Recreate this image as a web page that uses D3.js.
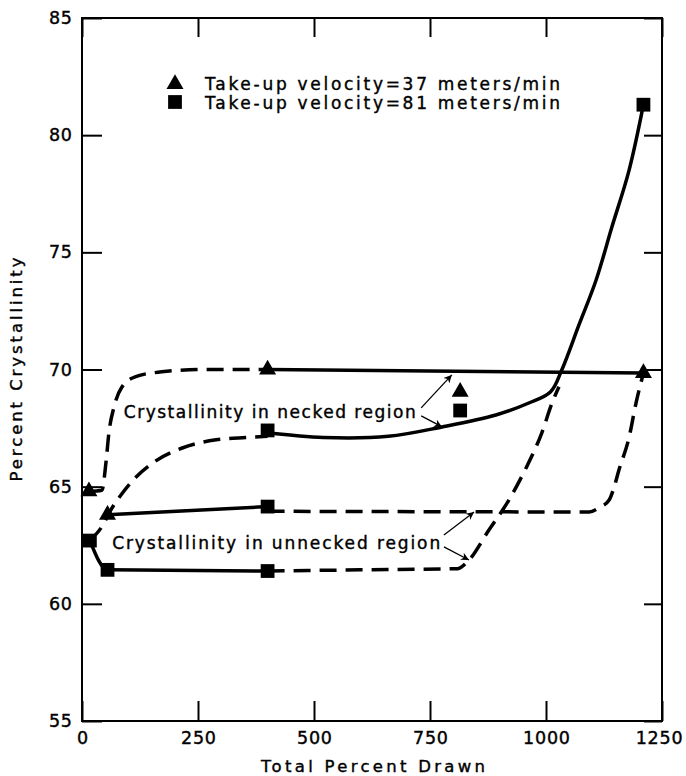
<!DOCTYPE html>
<html>
<head>
<meta charset="utf-8">
<script src="https://cdn.jsdelivr.net/npm/d3@7"></script>
<style>
    body { margin: 0; background: #fff; }
    text { font-family: "DejaVu Sans", "Liberation Sans", Arial, sans-serif; fill: #000; stroke: #000; stroke-width: 0.4px; }
    .axis path { display: none; }
    .axis line { stroke: #000; stroke-width: 2; }
    .axis text { font-size: 17.5px; letter-spacing: 0.8px; }
    .frame { fill: none; stroke: #000; stroke-width: 2; }
    .solid { fill: none; stroke: #000; stroke-width: 3.5; }
    .dash { fill: none; stroke: #000; stroke-width: 3.5; stroke-dasharray: 17 9; }
    .pointer { stroke: #000; stroke-width: 1.3; }
</style>
</head>
<body>
<div id="chart"></div>
<script>
//////////////////////////////////////////////////////////////
//////////////////////////// Data ////////////////////////////
//////////////////////////////////////////////////////////////

const xTicks = [0, 250, 500, 750, 1000, 1250]
const yTicks = [55, 60, 65, 70, 75, 80, 85]

//markers [total percent drawn, percent crystallinity]
const triangles37 = [[15,64.8],[55,63.8],[400,70.0],[815,69.05],[1210,69.85]]
const squares81 = [[17,62.7],[55,61.45],[400,67.4],[400,64.15],[400,61.4],[815,68.25],[1210,81.3]]

//37 meters/min
const necked37Dash = [[15,64.8],[43,64.85],[52,66.1],[58,67.3],[69,68.4],[86,69.25],[116,69.7],[172,69.9],[259,70.0],[400,70.0]]
const necked37Solid = [[400,70.0],[1210,69.85]]
const unnecked37Solid = [[55,63.8],[400,64.15]]
const unnecked37Dash = [[400,63.95],[800,63.93],[1093,63.92],[1114,64.1],[1136,64.43],[1147,64.99],[1157,65.7],[1179,67.1],[1194,68.57],[1210,69.85]]

//81 meters/min
const necked81Dash = [[17,62.7],[43,63.3],[62,64.0],[86,64.7],[116,65.4],[159,66.1],[216,66.65],[289,67.0],[353,67.1],[400,67.15]]
const necked81Solid = [[400,67.3],[520,67.1],[660,67.15],[776,67.55],[892,68.06],[963,68.57],[1010,69.05],[1034,69.98],[1071,71.9],[1108,73.82],[1142,76.08],[1179,78.5],[1210,81.3]]
const unnecked81Solid = [[17,62.7],[55,61.45],[400,61.4]]
const unnecked81Dash = [[400,61.4],[600,61.45],[810,61.5],[830,61.78],[877,63.15],[920,64.43],[957,65.8],[991,67.3],[1013,68.57],[1028,69.26]]

//annotations
const labelTexts = ["Crystallinity in necked region", "Crystallinity in unnecked region"]
const labelAnchors = [[90,67.93],[65,62.34]]
const pointerFrom = [[731,68.36],[731,68.02],[780,62.94],[780,62.43]]
const pointerTo = [[797,69.77],[776,67.55],[845,63.92],[834,61.87]]

const legendTexts = ["Take-up velocity=37 meters/min", "Take-up velocity=81 meters/min"]

//////////////////////////////////////////////////////////////
//////////////////////// Create SVG //////////////////////////
//////////////////////////////////////////////////////////////

const margin = { left: 82, top: 18, right: 24, bottom: 55 }
const width = 686 - margin.left - margin.right
const height = 776 - margin.top - margin.bottom

const root = d3.select("#chart").append("svg")
    .attr("width", 686)
    .attr("height", 776)

const svg = root.append("g")
    .attr("transform", "translate(" + [margin.left, margin.top] + ")")

//////////////////////////////////////////////////////////////
////////////////////// Create scales /////////////////////////
//////////////////////////////////////////////////////////////

const x = d3.scaleLinear().domain([0, 1250]).range([0, width])
const y = d3.scaleLinear().domain([55, 85]).range([height, 0])

const line = d3.line()
    .x(d => x(d[0]))
    .y(d => y(d[1]))
    .curve(d3.curveMonotoneX)

//smoother spline for the long necked curve
const smoothLine = d3.line()
    .x(d => x(d[0]))
    .y(d => y(d[1]))
    .curve(d3.curveCatmullRom.alpha(0.5))

//////////////////////////////////////////////////////////////
///////////////////////// Axes ///////////////////////////////
//////////////////////////////////////////////////////////////

svg.append("g").attr("class", "axis")
    .attr("transform", "translate(0," + height + ")")
    .call(d3.axisBottom(x).tickValues(xTicks).tickSize(-20).tickPadding(11).tickFormat(d3.format("d")))
    .selectAll("text").attr("dx", (d,i) => i === xTicks.length - 1 ? "-3px" : "0.4px")

svg.append("g").attr("class", "axis")
    .call(d3.axisTop(x).tickValues(xTicks).tickSize(-19).tickFormat(""))

svg.append("g").attr("class", "axis")
    .call(d3.axisLeft(y).tickValues(yTicks).tickSize(-20).tickPadding(10).tickFormat(d3.format("d")))
    .selectAll("text").attr("dx", "0.8px")

svg.append("g").attr("class", "axis")
    .attr("transform", "translate(" + width + ",0)")
    .call(d3.axisRight(y).tickValues(yTicks).tickSize(-18).tickFormat(""))

svg.append("rect")
    .attr("class", "frame")
    .attr("width", width)
    .attr("height", height)

//axis titles
svg.append("text")
    .attr("x", width / 2 + 1)
    .attr("y", height + 51)
    .attr("text-anchor", "middle")
    .attr("textLength", 224)
    .style("font-size", "16.5px")
    .text("Total Percent Drawn")

svg.append("text")
    .attr("transform", "translate(" + [-60, y(70)] + ") rotate(-90)")
    .attr("text-anchor", "middle")
    .attr("textLength", 224)
    .style("font-size", "16.5px")
    .text("Percent Crystallinity")

//////////////////////////////////////////////////////////////
///////////////////////// Curves /////////////////////////////
//////////////////////////////////////////////////////////////

const curves = svg.append("g").attr("class", "curve-group")

;[necked37Dash, unnecked37Dash, necked81Dash, unnecked81Dash].forEach(c => {
    curves.append("path").attr("class", "dash").attr("d", line(c))
})
;[necked37Solid, unnecked37Solid, unnecked81Solid].forEach(c => {
    curves.append("path").attr("class", "solid").attr("d", line(c))
})
curves.append("path").attr("class", "solid").attr("d", smoothLine(necked81Solid))

//////////////////////////////////////////////////////////////
///////////////////////// Markers ////////////////////////////
//////////////////////////////////////////////////////////////

const triSymbol = d3.symbol().type(d3.symbolTriangle).size(125)
const sqSymbol = d3.symbol().type(d3.symbolSquare).size(190)

svg.append("g").selectAll(".tri")
    .data(triangles37)
    .enter().append("path")
    .attr("class", "tri")
    .attr("transform", d => "translate(" + [x(d[0]), y(d[1])] + ")")
    .attr("d", triSymbol)

svg.append("g").selectAll(".sq")
    .data(squares81)
    .enter().append("path")
    .attr("class", "sq")
    .attr("transform", d => "translate(" + [x(d[0]), y(d[1])] + ")")
    .attr("d", sqSymbol)

//////////////////////////////////////////////////////////////
/////////////////////// Annotations //////////////////////////
//////////////////////////////////////////////////////////////

const defs = root.append("defs")
defs.append("marker")
    .attr("id", "head")
    .attr("viewBox", "0 0 10 10")
    .attr("refX", 10)
    .attr("refY", 5)
    .attr("markerWidth", 8)
    .attr("markerHeight", 8)
    .attr("markerUnits", "userSpaceOnUse")
    .attr("orient", "auto")
    .append("path")
    .attr("d", "M0,0 L10,5 L0,10 L3,5 Z")

svg.append("g").selectAll(".label")
    .data(labelTexts)
    .enter().append("text")
    .attr("class", "label")
    .attr("x", (d,i) => x(labelAnchors[i][0]))
    .attr("y", (d,i) => y(labelAnchors[i][1]))
    .attr("textLength", (d,i) => i === 0 ? 292 : 328)
    .style("font-size", "17px")
    .text(d => d)

svg.append("g").selectAll(".pointer")
    .data(pointerFrom)
    .enter().append("line")
    .attr("class", "pointer")
    .attr("x1", d => x(d[0]))
    .attr("y1", d => y(d[1]))
    .attr("x2", (d,i) => x(pointerTo[i][0]))
    .attr("y2", (d,i) => y(pointerTo[i][1]))
    .attr("marker-end", "url(#head)")

//////////////////////////////////////////////////////////////
///////////////////////// Legend /////////////////////////////
//////////////////////////////////////////////////////////////

const legend = root.append("g").attr("class", "legend-group")
const legendSymbols = [triSymbol, sqSymbol]

legend.selectAll(".legend-mark")
    .data(legendSymbols)
    .enter().append("path")
    .attr("transform", (d,i) => "translate(" + [175, 84 + i * 18] + ")")
    .attr("d", d => d())

legend.selectAll(".legend-text")
    .data(legendTexts)
    .enter().append("text")
    .attr("x", 205)
    .attr("y", (d,i) => 90 + i * 18.5)
    .attr("textLength", 355)
    .style("font-size", "17px")
    .text(d => d)
</script>
</body>
</html>
